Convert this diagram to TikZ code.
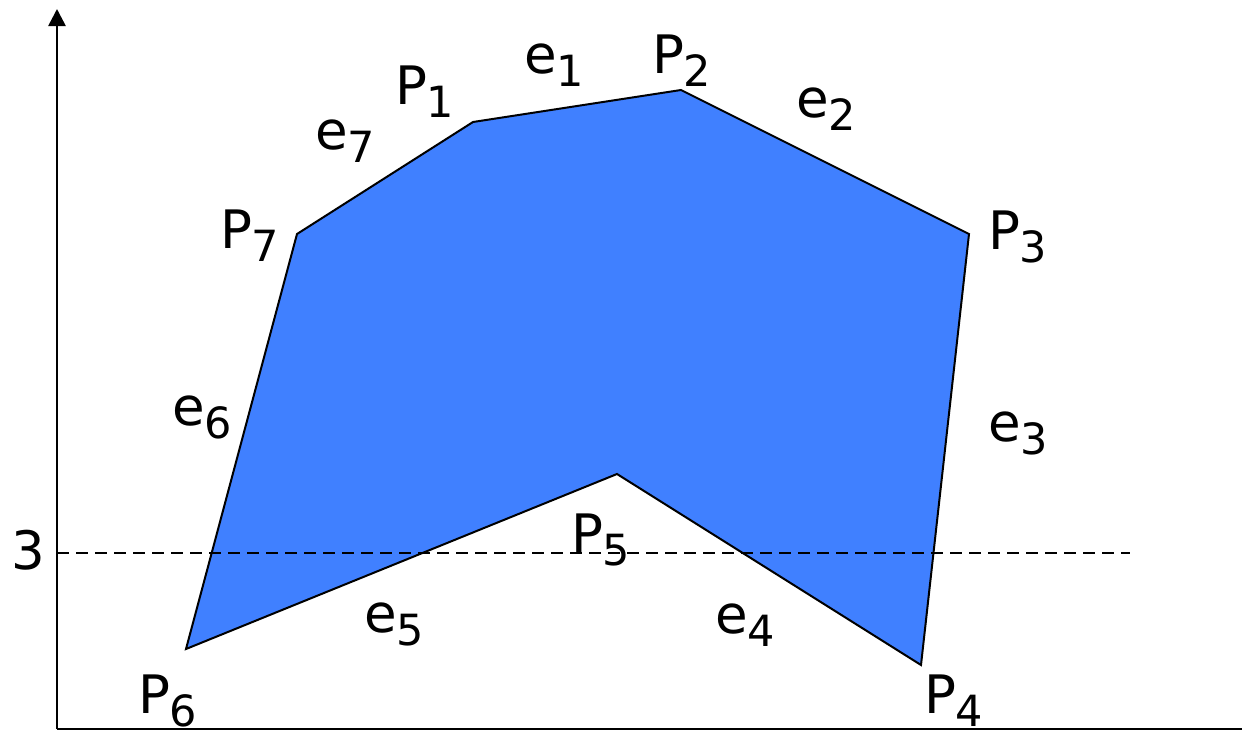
\documentclass[tikz,border=0pt]{standalone}
\usepackage{fontspec}
\setmainfont{DejaVu Sans}
\usetikzlibrary{arrows.meta}
\definecolor{polyblue}{RGB}{64,128,255}
\newcommand{\lb}[2]{#1\raisebox{-13pt}{\fontsize{43pt}{43pt}\selectfont #2}}
\begin{document}
\begin{tikzpicture}[x=1pt,y=-1pt,
  lab/.style={anchor=base west,inner sep=0pt,outer sep=0pt,font=\fontsize{53pt}{53pt}\selectfont},
  axis/.style={line width=2.6pt,-{Triangle[width=17pt,length=17pt]}},
  edge/.style={line width=2pt,line join=miter,fill=polyblue,draw=black},
  level/.style={line width=2pt,dash pattern=on 12pt off 7pt}]
\useasboundingbox (0,0) rectangle (1242,736);
\clip (0,0) rectangle (1242,736);
% vertices
\coordinate (p1) at (473,122);
\coordinate (p2) at (681,90);
\coordinate (p3) at (969,234);
\coordinate (p4) at (921,665);
\coordinate (p5) at (617,474);
\coordinate (p6) at (186,649);
\coordinate (p7) at (297,234);
\coordinate (o) at (57,729);
\coordinate (ytop) at (57,9);
\coordinate (xend) at (1259,729);
\coordinate (dl) at (57,553);
\coordinate (dr) at (1130,553);
% polygon
\filldraw[edge] (p1) -- (p2) -- (p3) -- (p4) -- (p5) -- (p6) -- (p7) -- cycle;
% axes
\draw[axis] (o) -- (ytop);
\draw[axis] (o) -- (xend);
\draw[level] (dl) -- (dr);
% labels
\node[lab] (lP1) at (395,104) {\lb{P}{1}};
\node[lab] (le1) at (524,73) {\lb{e}{1}};
\node[lab] (lP2) at (652,73) {\lb{P}{2}};
\node[lab] (le2) at (796,117) {\lb{e}{2}};
\node[lab] (lP3) at (988,249) {\lb{P}{3}};
\node[lab] (le3) at (988,441) {\lb{e}{3}};
\node[lab] (lP4) at (924,713) {\lb{P}{4}};
\node[lab] (lP5) at (571,552) {\lb{P}{5}};
\node[lab] (le4) at (715,633) {\lb{e}{4}};
\node[lab] (le5) at (364,632) {\lb{e}{5}};
\node[lab] (lP6) at (138,713) {\lb{P}{6}};
\node[lab] (le6) at (172,425) {\lb{e}{6}};
\node[lab] (lP7) at (220,248) {\lb{P}{7}};
\node[lab] (le7) at (315,149) {\lb{e}{7}};
\node[lab] (l3) at (11,569) {3};
\end{tikzpicture}
\end{document}
